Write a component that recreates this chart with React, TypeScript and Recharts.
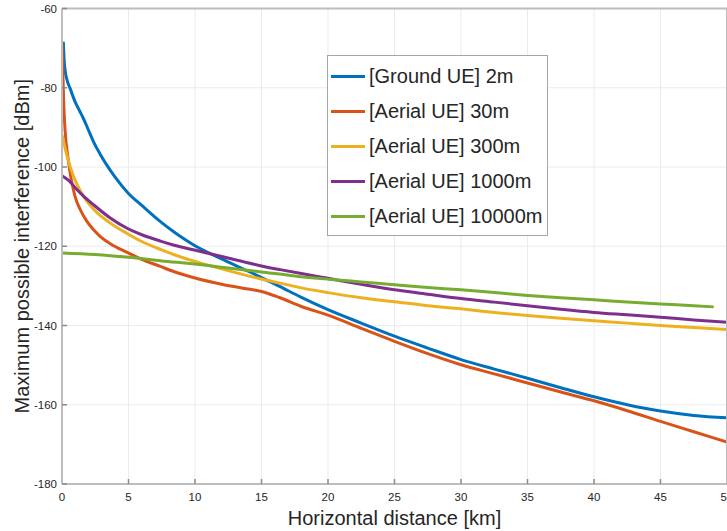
import { LineChart, Line, XAxis, YAxis, CartesianGrid, Legend } from 'recharts';

const FONT = '"Liberation Sans", Arial, Helvetica, sans-serif';

// x ticks [km] and y ticks [dBm]
const kmTicks = [0, 5, 10, 15, 20, 25, 30, 35, 40, 45, 50];
const dbmTicks = [-180, -160, -140, -120, -100, -80, -60];

// [Ground UE] 2m
const groundKm = [0.1, 0.15, 0.23, 0.4, 0.6, 0.98, 1.35, 1.6, 1.98, 2.41, 2.86, 3.31, 3.98, 4.98, 6, 7.4, 8.5, 9.87, 12, 14, 15, 16.4, 18, 20, 22.5, 25, 27.5, 30, 32.5, 35, 37.5, 40, 42.5, 45, 47.5, 50];
const groundDbm = [-68.4, -72.5, -75.5, -78.3, -80.1, -83.5, -86, -87.7, -90.6, -93.9, -96.7, -99.2, -102.5, -106.6, -109.7, -113.8, -116.6, -119.6, -123.2, -126.3, -127.9, -130.2, -132.9, -136, -139.4, -142.7, -145.7, -148.6, -151, -153.3, -155.7, -158, -160, -161.6, -162.7, -163.3];

// [Aerial UE] 30m
const aerial30Km = [0, 0.05, 0.12, 0.23, 0.47, 0.98, 1.35, 1.85, 2.36, 2.86, 3.6, 4.86, 6, 7.4, 8.5, 9.87, 12, 14, 15, 16.4, 18, 20, 22.5, 25, 27.5, 30, 32.5, 35, 37.5, 40, 42.5, 45, 47.5, 50];
const aerial30Dbm = [-68.8, -74, -83, -90.6, -98.2, -107.4, -110.6, -113.6, -115.8, -117.5, -119.3, -121.5, -123.3, -125.1, -126.5, -127.9, -129.6, -130.8, -131.4, -133, -135.2, -137.4, -140.7, -144, -147.1, -149.9, -152.2, -154.5, -156.8, -159, -161.5, -164.2, -166.8, -169.4];

// [Aerial UE] 300m
const aerial300Km = [0, 0.15, 0.3, 0.47, 0.6, 0.85, 1.1, 1.6, 2.36, 3.6, 4.86, 6, 7.4, 8.5, 9.87, 12, 14.9, 16.4, 18, 20, 22.5, 25, 27.5, 30, 32.5, 35, 37.5, 40, 42.5, 45, 47.5, 50];
const aerial300Dbm = [-91.9, -94, -96.2, -98.3, -99.8, -102.2, -104.2, -107.3, -110.6, -114.1, -116.7, -118.8, -120.8, -122.2, -123.7, -125.7, -128.2, -129.3, -130.5, -131.7, -133, -134, -135, -135.8, -136.7, -137.5, -138.2, -138.8, -139.4, -140, -140.5, -141];

// [Aerial UE] 1000m
const aerial1000Km = [0, 0.5, 1.1, 1.7, 2.36, 3.6, 4.86, 6, 7.4, 8.5, 9.87, 12, 14.9, 16.4, 18, 20, 22.5, 25, 27.5, 30, 32.5, 35, 37.5, 40, 42.5, 45, 47.5, 50];
const aerial1000Dbm = [-102.2, -103.4, -105.6, -107.6, -109.5, -112.8, -115.4, -117.1, -118.7, -119.8, -120.9, -122.6, -124.9, -125.9, -126.9, -128.1, -129.6, -131, -132.1, -133.2, -134.1, -135, -135.9, -136.7, -137.3, -137.9, -138.6, -139.2];

// [Aerial UE] 10000m
const aerial10000Km = [0, 2.5, 5, 7.5, 10, 12.5, 15, 17.5, 20, 22.5, 25, 27.5, 30, 32.5, 35, 37.5, 40, 42.5, 45, 47.5, 49];
const aerial10000Dbm = [-121.7, -122.1, -122.8, -123.7, -124.5, -125.5, -126.5, -127.5, -128.3, -129, -129.7, -130.4, -131, -131.7, -132.4, -133, -133.5, -134.1, -134.6, -135, -135.3];

const toPoints = (km: number[], dbm: number[]) => km.map((x, i) => ({ x, y: dbm[i] }));

const series = [
  { name: '[Ground UE] 2m', color: '#0072BD', data: toPoints(groundKm, groundDbm) },
  { name: '[Aerial UE] 30m', color: '#D95319', data: toPoints(aerial30Km, aerial30Dbm) },
  { name: '[Aerial UE] 300m', color: '#EDB120', data: toPoints(aerial300Km, aerial300Dbm) },
  { name: '[Aerial UE] 1000m', color: '#7E2F8E', data: toPoints(aerial1000Km, aerial1000Dbm) },
  { name: '[Aerial UE] 10000m', color: '#77AC30', data: toPoints(aerial10000Km, aerial10000Dbm) },
];
const seriesOrder = series.map((s) => s.name);

const AXIS = '#bdbdbd';
const TEXT = '#262626';

function XLabel(props: any) {
  const vb = props.viewBox || { x: 62, y: 484, width: 665, height: 30 };
  return (
    <text x={vb.x + vb.width / 2} y={vb.y + 41} textAnchor="middle" fontSize={20} fontFamily={FONT} fill={TEXT}>
      Horizontal distance [km]
    </text>
  );
}

function YLabel(props: any) {
  const vb = props.viewBox || { x: 0, y: 8.5, width: 62, height: 475.5 };
  const cx = vb.x + 22;
  const cy = vb.y + vb.height / 2;
  return (
    <text
      x={cx}
      y={cy}
      transform={`rotate(-90 ${cx} ${cy})`}
      textAnchor="middle"
      dominantBaseline="central"
      fontSize={20}
      fontFamily={FONT}
      fill={TEXT}
    >
      Maximum possible interference [dBm]
    </text>
  );
}

function LegendBox(props: any) {
  const items = [...(props.payload || [])].sort(
    (a: any, b: any) => seriesOrder.indexOf(a.value) - seriesOrder.indexOf(b.value)
  );
  return (
    <div
      style={{
        border: '1px solid #a6a6a6',
        background: '#fff',
        width: 219,
        height: 176,
        boxSizing: 'content-box',
        paddingTop: 3,
        fontFamily: FONT,
        fontSize: 20,
        color: TEXT,
      }}
    >
      {items.map((it: any) => (
        <div key={it.value} style={{ display: 'flex', alignItems: 'center', height: 35, whiteSpace: 'nowrap' }}>
          <span style={{ display: 'inline-block', width: 34, height: 3, marginLeft: 3, background: it.color }} />
          <span style={{ marginLeft: 4 }}>{it.value}</span>
        </div>
      ))}
    </div>
  );
}

export default function App() {
  return (
    <div style={{ position: 'absolute', left: 0, top: 0, width: 727, height: 531, overflow: 'hidden', background: '#fff' }}>
      <LineChart width={745} height={531} margin={{ top: 7.5, right: 17, bottom: 17, left: 0 }}>
        <CartesianGrid stroke="#ebebeb" strokeWidth={1} />
        <XAxis
          dataKey="x"
          type="number"
          domain={[0, 50]}
          ticks={kmTicks}
          allowDataOverflow
          height={30}
          interval={0}
          stroke={AXIS}
          strokeWidth={2}
          tickLine={{ stroke: '#8a8a8a', strokeWidth: 1.5 }}
          tickSize={-5}
          tickMargin={14}
          tick={{ fill: TEXT, fontSize: 11.5, fontFamily: FONT }}
          label={XLabel}
        />
        <XAxis
          xAxisId="top"
          orientation="top"
          dataKey="x"
          type="number"
          domain={[0, 50]}
          ticks={kmTicks}
          height={1}
          interval={0}
          stroke={AXIS}
          strokeWidth={2}
          tickLine={{ stroke: '#8a8a8a', strokeWidth: 1.5 }}
          tickSize={-5}
          tick={false}
        />
        <YAxis
          type="number"
          domain={[-180, -60]}
          ticks={dbmTicks}
          allowDataOverflow
          width={62}
          interval={0}
          stroke={AXIS}
          strokeWidth={2}
          tickLine={{ stroke: '#8a8a8a', strokeWidth: 1.5 }}
          tickSize={-5}
          tickMargin={10}
          tick={{ fill: TEXT, fontSize: 11.5, fontFamily: FONT }}
          label={YLabel}
        />
        <YAxis
          yAxisId="right"
          orientation="right"
          type="number"
          domain={[-180, -60]}
          ticks={dbmTicks}
          width={1}
          interval={0}
          stroke={AXIS}
          strokeWidth={2}
          tickLine={{ stroke: '#8a8a8a', strokeWidth: 1.5 }}
          tickSize={-5}
          tick={false}
        />
        <Legend
          layout="vertical"
          align="center"
          verticalAlign="middle"
          content={LegendBox}
          wrapperStyle={{ left: 327, top: 55, width: 221, height: 180 }}
        />
        {series.map((s) => (
          <Line
            key={s.name}
            data={s.data}
            dataKey="y"
            name={s.name}
            type="monotone"
            stroke={s.color}
            strokeWidth={3}
            dot={false}
            activeDot={false}
            isAnimationActive={false}
          />
        ))}
      </LineChart>
    </div>
  );
}
